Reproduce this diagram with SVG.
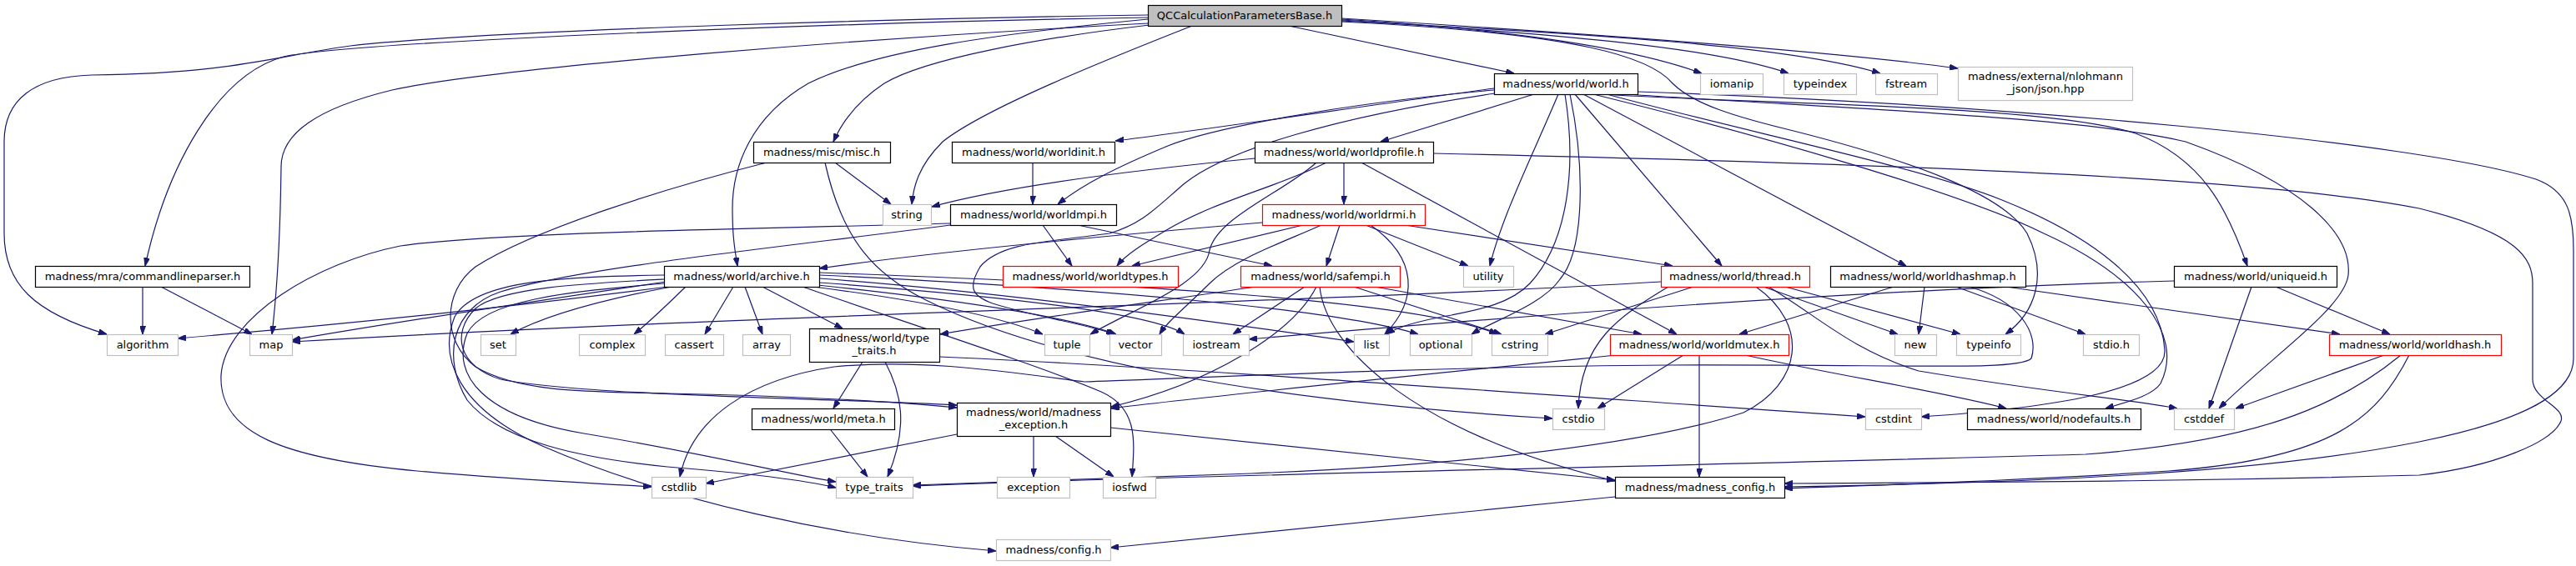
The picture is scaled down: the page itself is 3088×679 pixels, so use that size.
<svg xmlns="http://www.w3.org/2000/svg" width="3088" height="679" viewBox="0 0 3088 679">
<defs>
<marker id="a" viewBox="0 0 10 7" refX="10" refY="3.5" markerWidth="10" markerHeight="7" markerUnits="userSpaceOnUse" orient="auto"><path d="M0,0 L10,3.5 L0,7 z" fill="#191970" stroke="#191970" stroke-width="1"/></marker>
</defs>
<style>
rect{fill:#fff;stroke:#000;stroke-width:1.2}
.g rect{stroke:#bfbfbf}
.r rect{stroke:#ff0000}
.q rect{fill:#bfbfbf;stroke:#000}
text{font-family:"DejaVu Sans","Liberation Sans",sans-serif;font-size:13px;text-anchor:middle;fill:#000}
#edges path{fill:none;stroke:#191970;stroke-width:1.2;marker-end:url(#a)}
</style>
<rect x="0" y="0" width="3088" height="679" style="fill:#fff;stroke:none"/>
<g id="edges">
<path d="M1376,18 C1100,22 600,35 420,55 C330,67 280,88 110,90 C40,92 5,120 5,170 L5,280 C5,340 40,375 128,401"/>
<path d="M1376,21 C1000,27 420,50 340,68 C260,90 200,200 174,319"/>
<path d="M1376,28 C1050,45 600,80 470,108 C380,130 337,160 337,200 C336,280 332,350 326,401"/>
<path d="M1376,23 C1200,40 1050,60 969,100 C900,140 878,200 878,250 C878,285 881,300 884,319"/>
<path d="M1378,30 C1250,45 1110,70 1060,100 C1030,120 1010,145 999,170"/>
<path d="M1429,31 C1330,70 1180,130 1130,170 C1100,200 1095,225 1093,245"/>
<path d="M1545,31 L1815,88"/>
<path d="M1608,23 C1800,35 1950,55 2040,88"/>
<path d="M1608,24 C1850,40 2050,55 2144,88"/>
<path d="M1608,25 C1900,40 2150,55 2254,88"/>
<path d="M1608,22 C1900,40 2200,62 2347,82"/>
<path d="M1608,26 C1900,40 1980,70 2005,100 C2030,125 2080,140 2150,157 C2280,190 2400,230 2430,280 C2455,330 2440,375 2404,401"/>
<path d="M171,344 L171,401"/>
<path d="M193,344 L302,401"/>
<path d="M1001,195 L1068,245"/>
<path d="M919,195 C800,225 640,275 570,320 C530,350 530,410 570,440 C620,470 700,470 800,472 C950,475 1080,482 1147,489"/>
<path d="M989,195 C1010,290 1050,330 1110,360 C1250,430 1500,480 1861,502"/>
<path d="M1238,195 L1238,245"/>
<path d="M1791,106 C1650,125 1450,155 1337,169"/>
<path d="M1791,108 C1600,125 1450,155 1400,175 C1340,200 1300,220 1268,245"/>
<path d="M1792,112 C1600,140 1470,180 1420,220 C1385,250 1370,268 1330,280 C1260,290 1200,290 1175,320 C1160,345 1165,355 1190,364 C1240,380 1300,388 1336,401"/>
<path d="M1839,113 L1655,170"/>
<path d="M1868,113 C1840,180 1800,260 1786,319"/>
<path d="M1876,113 C1890,200 1880,290 1834,340 C1810,365 1770,372 1740,378 C1700,385 1675,392 1662,401"/>
<path d="M1882,113 C1900,200 1900,300 1870,335 C1850,365 1790,385 1764,401"/>
<path d="M1888,113 L2064,319"/>
<path d="M1898,113 L2285,319"/>
<path d="M1920,113 C2100,125 2450,125 2560,160 C2640,190 2670,250 2694,319"/>
<path d="M1950,113 C2200,130 2500,140 2620,170 C2760,220 2820,280 2815,330 C2810,370 2720,430 2660,490"/>
<path d="M1963,110 C2400,125 2900,170 3040,215 C3080,230 3085,260 3085,300 L3085,430 C3085,480 3000,510 2900,530 C2700,570 2400,580 2139,584"/>
<path d="M1926,113 C2100,160 2300,200 2400,240 C2500,280 2590,340 2595,420 C2598,470 2450,490 2303,500"/>
<path d="M1910,113 C2100,160 2350,230 2450,280 C2560,330 2620,400 2590,460 C2580,475 2550,482 2524,490"/>
<path d="M1504,190 C1350,205 1200,225 1117,248"/>
<path d="M1590,195 C1530,225 1460,240 1400,275 C1370,293 1350,305 1339,319"/>
<path d="M1578,195 C1540,230 1460,260 1450,300 C1445,340 1360,370 1307,401"/>
<path d="M1611,195 L1611,245"/>
<path d="M1632,195 L2010,401"/>
<path d="M1718,184 C2200,195 2700,210 2900,250 C3020,280 3036,310 3036,340 L3036,455 C3036,480 3076,488 3070,505 C3060,530 2990,560 2900,570 C2600,578 2400,578 2139,580"/>
<path d="M1250,270 L1285,319"/>
<path d="M1292,270 L1525,319"/>
<path d="M1139,268 C900,275 600,278 480,295 C380,315 270,380 265,450 C262,520 340,550 500,565 C620,576 720,580 781,584"/>
<path d="M1139,270 C950,295 700,320 600,350 C540,370 530,430 560,480 C600,530 700,550 800,560 C900,568 960,575 1002,585"/>
<path d="M800,344 C600,370 400,390 213,406"/>
<path d="M798,338 C650,360 450,390 350,408"/>
<path d="M805,344 C720,360 650,380 612,401"/>
<path d="M822,344 C800,365 780,385 760,401"/>
<path d="M879,344 L845,401"/>
<path d="M893,344 L914,401"/>
<path d="M914,344 L1010,394"/>
<path d="M975,344 C1100,360 1200,380 1250,401"/>
<path d="M980,342 C1150,360 1280,380 1338,401"/>
<path d="M982,339 C1200,355 1380,375 1420,401"/>
<path d="M982,334 C1200,350 1450,385 1623,410"/>
<path d="M982,330 C1300,345 1600,370 1700,401"/>
<path d="M982,327 C1350,340 1700,360 1795,401"/>
<path d="M962,344 C1080,385 1250,440 1320,470 C1365,490 1360,530 1357,572"/>
<path d="M796,335 C700,340 600,345 570,370 C540,400 550,440 600,455 C700,475 1000,478 1147,486"/>
<path d="M796,340 C680,350 580,360 560,400 C540,450 580,500 700,520 C850,545 950,570 1002,578"/>
<path d="M796,330 C680,332 570,335 545,380 C525,430 550,490 650,535 C800,600 1000,645 1194,661"/>
<path d="M1513,267 C1300,285 1100,305 982,322"/>
<path d="M1562,270 L1357,319"/>
<path d="M1584,270 C1540,290 1480,310 1450,340 C1420,370 1400,385 1390,401"/>
<path d="M1606,270 L1590,319"/>
<path d="M1637,270 L1760,319"/>
<path d="M1643,270 C1700,310 1700,360 1660,401"/>
<path d="M1684,270 L2005,319"/>
<path d="M1505,344 C1400,360 1250,380 1127,401"/>
<path d="M1564,344 L1478,401"/>
<path d="M1578,344 C1550,400 1450,460 1332,488"/>
<path d="M1582,344 C1590,420 1700,520 1936,577"/>
<path d="M1623,344 L1800,401"/>
<path d="M1648,344 L1968,401"/>
<path d="M1991,338 C1600,362 900,378 350,410"/>
<path d="M2000,344 C1940,380 1895,410 1892,490"/>
<path d="M2030,344 L1852,401"/>
<path d="M2105,344 C2170,390 2160,460 2090,495 C1950,540 1700,560 1500,568 C1300,575 1150,580 1094,582"/>
<path d="M2114,344 L2275,401"/>
<path d="M2140,344 L2350,401"/>
<path d="M2120,344 C2180,380 2220,420 2300,445 C2450,470 2560,480 2610,490"/>
<path d="M2270,344 L2085,401"/>
<path d="M2307,344 L2300,401"/>
<path d="M2345,344 L2500,401"/>
<path d="M2405,344 L2805,401"/>
<path d="M2360,344 C2420,360 2445,400 2435,430 C2420,445 2300,437 2000,438 C1700,440 1400,455 1300,458 C1200,445 1100,430 1000,440 C900,455 830,500 815,572"/>
<path d="M2606,337 C2300,345 1900,372 1497,407"/>
<path d="M2728,344 L2865,401"/>
<path d="M2699,344 L2648,490"/>
<path d="M1938,426 C1700,450 1450,475 1332,490"/>
<path d="M2018,426 L1915,490"/>
<path d="M2037,426 L2037,572"/>
<path d="M2092,426 C2200,450 2330,470 2405,490"/>
<path d="M2858,426 L2680,490"/>
<path d="M2878,426 C2800,490 2700,530 2500,545 C2000,560 1400,570 1094,583"/>
<path d="M2888,426 C2850,500 2800,550 2600,565 C2400,578 2250,582 2139,586"/>
<path d="M1034,434 L999,490"/>
<path d="M1061,434 C1080,470 1090,510 1064,572"/>
<path d="M1126,428 C1400,440 1800,470 2236,500"/>
<path d="M996,516 L1040,572"/>
<path d="M1147,521 L846,580"/>
<path d="M1239,523 L1239,572"/>
<path d="M1265,523 L1335,572"/>
<path d="M1331,513 L1936,576"/>
<path d="M1936,596 C1700,620 1500,640 1331,657"/>
</g>
<g id="n-qc" class="q"><rect x="1376.5" y="6.5" width="232" height="25"/><text x="1492" y="23">QCCalculationParametersBase.h</text></g>
<g id="n-world"><rect x="1791.5" y="88.5" width="172" height="25"/><text x="1877" y="105">madness/world/world.h</text></g>
<g id="n-iomanip" class="g"><rect x="2038.5" y="88.5" width="75" height="25"/><text x="2076" y="105">iomanip</text></g>
<g id="n-typeindex" class="g"><rect x="2138.5" y="88.5" width="87" height="25"/><text x="2182" y="105">typeindex</text></g>
<g id="n-fstream" class="g"><rect x="2248.5" y="88.5" width="74" height="25"/><text x="2285" y="105">fstream</text></g>
<g id="n-json" class="g"><rect x="2347.5" y="80.5" width="209" height="40"/><text x="2452" y="96">madness/external/nlohmann</text><text x="2452" y="111">_json/json.hpp</text></g>
<g id="n-misc"><rect x="903.5" y="170.5" width="164" height="25"/><text x="985" y="187">madness/misc/misc.h</text></g>
<g id="n-worldinit"><rect x="1141.5" y="170.5" width="195" height="25"/><text x="1239" y="187">madness/world/worldinit.h</text></g>
<g id="n-worldprofile"><rect x="1504.5" y="170.5" width="214" height="25"/><text x="1611" y="187">madness/world/worldprofile.h</text></g>
<g id="n-string" class="g"><rect x="1058.5" y="245.5" width="58" height="25"/><text x="1087" y="262">string</text></g>
<g id="n-worldmpi"><rect x="1139.5" y="245.5" width="199" height="25"/><text x="1239" y="262">madness/world/worldmpi.h</text></g>
<g id="n-worldrmi" class="r"><rect x="1513.5" y="245.5" width="195" height="25"/><text x="1611" y="262">madness/world/worldrmi.h</text></g>
<g id="n-cmdline"><rect x="42.5" y="319.5" width="257" height="25"/><text x="171" y="336">madness/mra/commandlineparser.h</text></g>
<g id="n-archive"><rect x="796.5" y="319.5" width="186" height="25"/><text x="889" y="336">madness/world/archive.h</text></g>
<g id="n-worldtypes" class="r"><rect x="1202.5" y="319.5" width="210" height="25"/><text x="1307" y="336">madness/world/worldtypes.h</text></g>
<g id="n-safempi" class="r"><rect x="1487.5" y="319.5" width="191" height="25"/><text x="1583" y="336">madness/world/safempi.h</text></g>
<g id="n-utility" class="g"><rect x="1754.5" y="319.5" width="60" height="25"/><text x="1784" y="336">utility</text></g>
<g id="n-thread" class="r"><rect x="1991.5" y="319.5" width="178" height="25"/><text x="2080" y="336">madness/world/thread.h</text></g>
<g id="n-worldhashmap"><rect x="2194.5" y="319.5" width="234" height="25"/><text x="2311" y="336">madness/world/worldhashmap.h</text></g>
<g id="n-uniqueid"><rect x="2606.5" y="319.5" width="195" height="25"/><text x="2704" y="336">madness/world/uniqueid.h</text></g>
<g id="n-algorithm" class="g"><rect x="128.5" y="401.5" width="85" height="25"/><text x="171" y="418">algorithm</text></g>
<g id="n-map" class="g"><rect x="299.5" y="401.5" width="51" height="25"/><text x="325" y="418">map</text></g>
<g id="n-set" class="g"><rect x="576.5" y="401.5" width="42" height="25"/><text x="597" y="418">set</text></g>
<g id="n-complex" class="g"><rect x="694.5" y="401.5" width="79" height="25"/><text x="734" y="418">complex</text></g>
<g id="n-cassert" class="g"><rect x="797.5" y="401.5" width="70" height="25"/><text x="832" y="418">cassert</text></g>
<g id="n-array" class="g"><rect x="890.5" y="401.5" width="57" height="25"/><text x="919" y="418">array</text></g>
<g id="n-typetraitsh"><rect x="970.5" y="394.5" width="156" height="40"/><text x="1048" y="410">madness/world/type</text><text x="1048" y="425">_traits.h</text></g>
<g id="n-tuple" class="g"><rect x="1252.5" y="401.5" width="54" height="25"/><text x="1279" y="418">tuple</text></g>
<g id="n-vector" class="g"><rect x="1330.5" y="401.5" width="62" height="25"/><text x="1361" y="418">vector</text></g>
<g id="n-iostream" class="g"><rect x="1418.5" y="401.5" width="79" height="25"/><text x="1458" y="418">iostream</text></g>
<g id="n-list" class="g"><rect x="1623.5" y="401.5" width="42" height="25"/><text x="1644" y="418">list</text></g>
<g id="n-optional" class="g"><rect x="1690.5" y="401.5" width="74" height="25"/><text x="1727" y="418">optional</text></g>
<g id="n-cstring" class="g"><rect x="1788.5" y="401.5" width="67" height="25"/><text x="1822" y="418">cstring</text></g>
<g id="n-worldmutex" class="r"><rect x="1930.5" y="401.5" width="214" height="25"/><text x="2037" y="418">madness/world/worldmutex.h</text></g>
<g id="n-new" class="g"><rect x="2271.5" y="401.5" width="50" height="25"/><text x="2296" y="418">new</text></g>
<g id="n-typeinfo" class="g"><rect x="2345.5" y="401.5" width="77" height="25"/><text x="2384" y="418">typeinfo</text></g>
<g id="n-stdio" class="g"><rect x="2497.5" y="401.5" width="67" height="25"/><text x="2531" y="418">stdio.h</text></g>
<g id="n-worldhash" class="r"><rect x="2792.5" y="401.5" width="206" height="25"/><text x="2895" y="418">madness/world/worldhash.h</text></g>
<g id="n-meta"><rect x="901.5" y="490.5" width="171" height="25"/><text x="987" y="507">madness/world/meta.h</text></g>
<g id="n-mexc"><rect x="1147.5" y="483.5" width="184" height="40"/><text x="1239" y="499">madness/world/madness</text><text x="1239" y="514">_exception.h</text></g>
<g id="n-cstdio" class="g"><rect x="1861.5" y="490.5" width="62" height="25"/><text x="1892" y="507">cstdio</text></g>
<g id="n-cstdint" class="g"><rect x="2236.5" y="490.5" width="67" height="25"/><text x="2270" y="507">cstdint</text></g>
<g id="n-nodefaults"><rect x="2358.5" y="490.5" width="208" height="25"/><text x="2462" y="507">madness/world/nodefaults.h</text></g>
<g id="n-cstddef" class="g"><rect x="2606.5" y="490.5" width="72" height="25"/><text x="2642" y="507">cstddef</text></g>
<g id="n-cstdlib" class="g"><rect x="781.5" y="572.5" width="65" height="25"/><text x="814" y="589">cstdlib</text></g>
<g id="n-type_traits" class="g"><rect x="1002.5" y="572.5" width="92" height="25"/><text x="1048" y="589">type_traits</text></g>
<g id="n-exception" class="g"><rect x="1195.5" y="572.5" width="87" height="25"/><text x="1239" y="589">exception</text></g>
<g id="n-iosfwd" class="g"><rect x="1322.5" y="572.5" width="63" height="25"/><text x="1354" y="589">iosfwd</text></g>
<g id="n-mconfig"><rect x="1936.5" y="572.5" width="203" height="25"/><text x="2038" y="589">madness/madness_config.h</text></g>
<g id="n-config" class="g"><rect x="1194.5" y="647.5" width="137" height="25"/><text x="1263" y="664">madness/config.h</text></g>
</svg>
